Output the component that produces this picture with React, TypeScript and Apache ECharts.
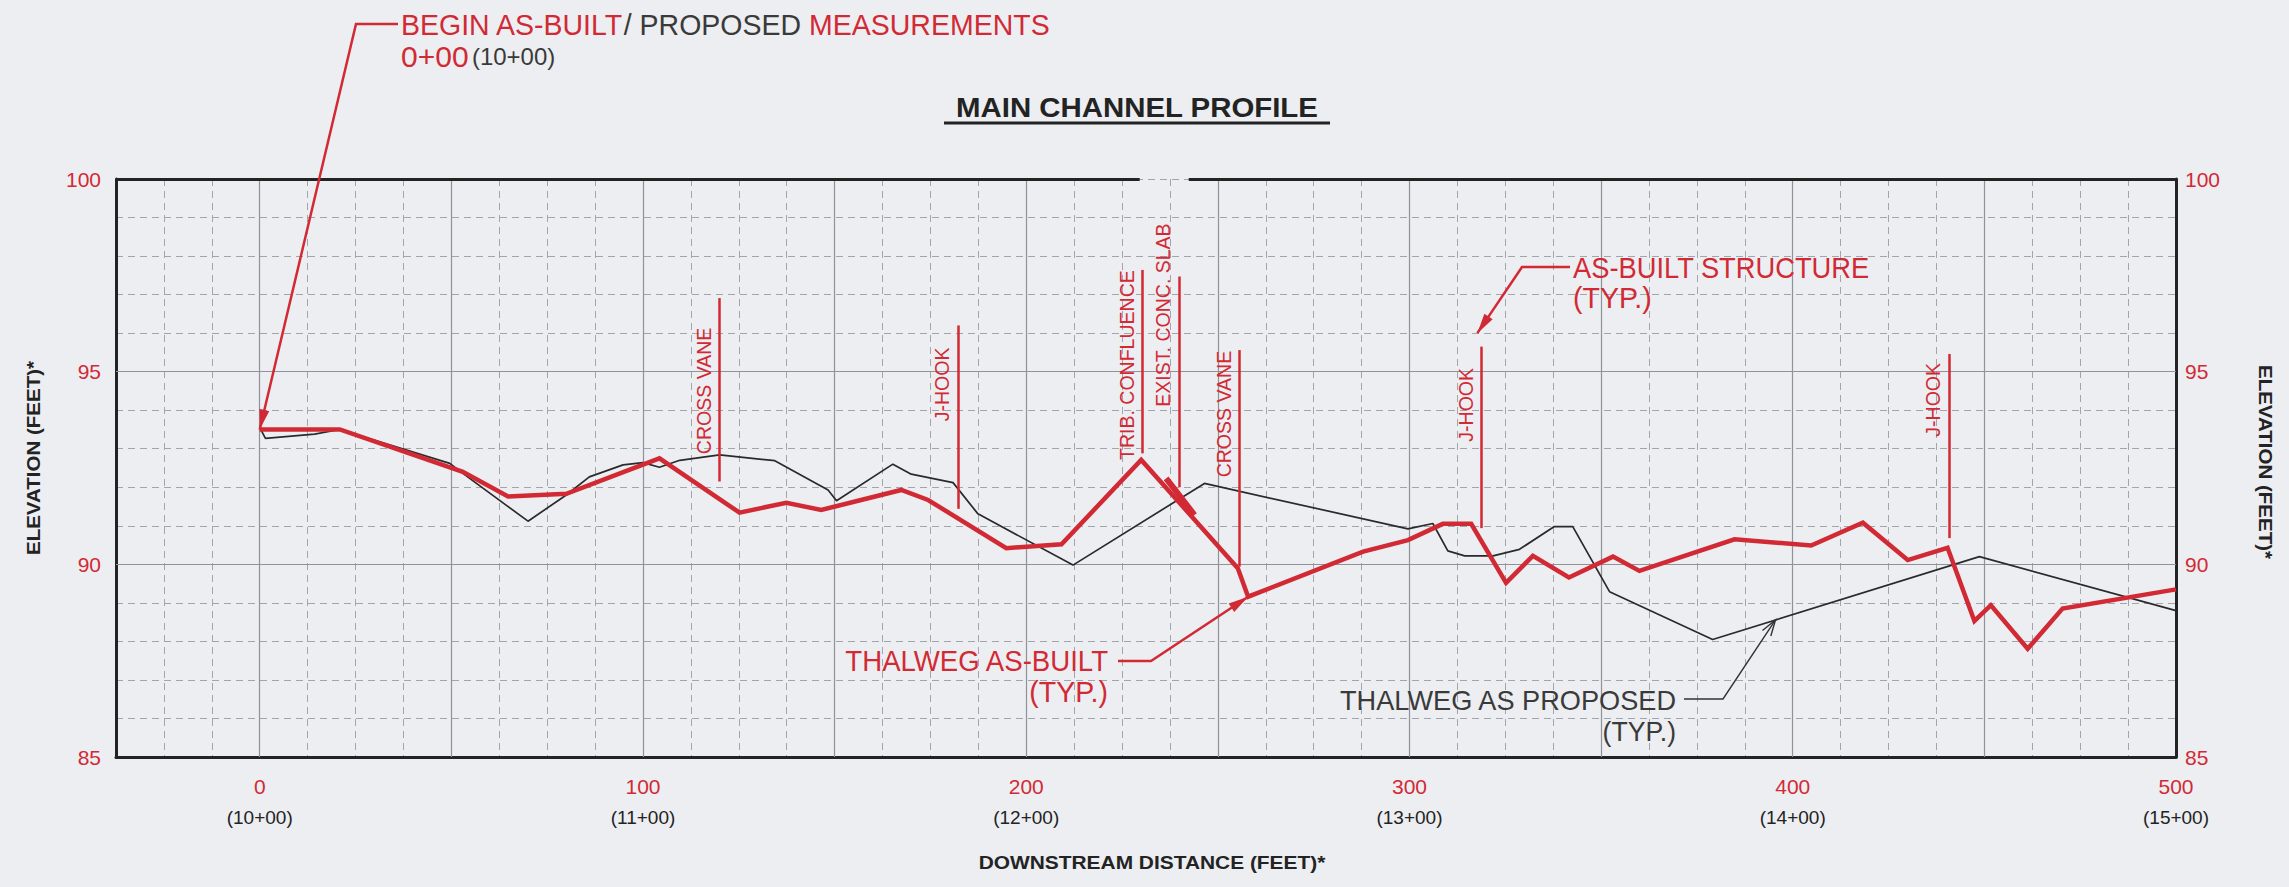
import React, { useEffect, useRef } from "react";
import * as echarts from "echarts";

// ---- data (feet downstream, elevation in feet) ----
const asBuiltX = [0, 20.9, 53, 64.8, 80, 104.3, 125.2, 137.4, 146.5, 167.4, 174.4, 194.8, 209.2, 230, 255.2, 257.9, 287.9, 299.6, 308.7, 316.1, 325.2, 332.2, 341.6, 353.1, 360, 384.8, 404.8, 418.3, 430, 440.4, 447.4, 451.7, 461.3, 470.4, 500];
const asBuiltY = [93.5, 93.5, 92.4, 91.76, 91.83, 92.75, 91.34, 91.6, 91.41, 91.93, 91.67, 90.42, 90.52, 92.71, 89.9, 89.16, 90.33, 90.63, 91.05, 91.05, 89.52, 90.22, 89.66, 90.2, 89.83, 90.65, 90.49, 91.08, 90.11, 90.43, 88.53, 88.94, 87.81, 88.85, 89.35];

const proposedX = [0, 1.5, 14.3, 20.9, 49.6, 53, 70, 80, 86, 94.8, 100, 104.3, 109.6, 120, 134.4, 148.3, 150.5, 165.2, 170, 180.9, 187.4, 212.2, 246.5, 299.6, 306.1, 310, 314.4, 321.8, 328.7, 337.8, 342.6, 352.2, 379.1, 448.7, 500];
const proposedY = [93.55, 93.27, 93.38, 93.5, 92.62, 92.36, 91.12, 91.8, 92.27, 92.58, 92.64, 92.52, 92.7, 92.84, 92.69, 91.93, 91.65, 92.6, 92.34, 92.12, 91.31, 89.98, 92.1, 90.92, 91.06, 90.35, 90.22, 90.22, 90.39, 90.98, 90.98, 89.29, 88.05, 90.2, 88.8];

const structureNames = ["CROSS VANE", "J-HOOK", "TRIB. CONFLUENCE", "EXIST. CONC. SLAB", "CROSS VANE", "J-HOOK", "J-HOOK"];
const structureX = [120.0, 182.2, 230.3, 239.8, 255.6, 318.8, 440.8];
const structureTop = [96.91, 96.2, 97.64, 97.47, 95.56, 95.65, 95.46];
const structureBottom = [92.15, 91.44, 92.88, 92.0, 89.94, 90.94, 90.68];
const structureLabelY = [94.5, 94.67, 95.17, 96.47, 93.9, 94.14, 94.27];

const slabStart = [236.5, 92.23];
const slabEnd = [243.9, 91.28];

const xTickValues = [0, 100, 200, 300, 400, 500];
const stationLabels = ["(10+00)", "(11+00)", "(12+00)", "(13+00)", "(14+00)", "(15+00)"];
const yTickValues = [85, 90, 95, 100];
const solidGridX = [0, 50, 100, 150, 200, 250, 300, 350, 400, 450];
const solidGridY = [90, 95];

// annotation anchors (data space)
const beginTip = [0, 93.5];
const structureTip = [317.7, 96.0];
const asBuiltTip = [257.9, 89.16];
const proposedTipX = 395.5;

const RED = "#d22a35";
const INK = "#232323";
const GRIDC = "#8f9298";
const DASHC = "#a2a5ab";
const FONT = "'Liberation Sans', Arial, sans-serif";

function interp(xs: number[], ys: number[], x: number) {
  for (let i = 1; i < xs.length; i++) {
    if (x <= xs[i]) {
      const t = (x - xs[i - 1]) / (xs[i] - xs[i - 1]);
      return ys[i - 1] + t * (ys[i] - ys[i - 1]);
    }
  }
  return ys[ys.length - 1];
}

function head(tip: number[], from: number[], len: number, hw: number) {
  const dx = tip[0] - from[0];
  const dy = tip[1] - from[1];
  const L = Math.hypot(dx, dy);
  const ux = dx / L;
  const uy = dy / L;
  const bx = tip[0] - ux * len;
  const by = tip[1] - uy * len;
  return [[bx - uy * hw, by + ux * hw], tip, [bx + uy * hw, by - ux * hw]];
}

export default function App() {
  const ref = useRef<HTMLDivElement>(null);
  useEffect(() => {
    document.body.style.margin = "0";
    const chart = echarts.init(ref.current!, null, { renderer: "svg" });
    const yFmt = (v: number) => (yTickValues.indexOf(v) >= 0 ? String(v) : "");
    const option: any = {
      animation: false,
      backgroundColor: "#eceef1",
      grid: { left: 116, right: 113, top: 179, bottom: 130, outerBoundsMode: "none" },
      xAxis: {
        type: "value",
        min: -37.5,
        max: 500,
        interval: 12.5,
        position: "bottom",
        axisLine: { show: true, onZero: false, lineStyle: { color: INK, width: 3 } },
        axisTick: { show: false },
        splitLine: { show: true, lineStyle: { color: DASHC, width: 1, type: [7, 5] } },
        axisLabel: {
          margin: 14,
          hideOverlap: false,
          formatter: (v: number) => {
            const k = Math.round(v);
            if (Math.abs(v - k) > 1e-6) return "";
            const i = xTickValues.indexOf(k);
            if (i < 0) return "";
            return `{a|${k}}\n{b|${stationLabels[i]}}`;
          },
          rich: {
            a: { color: RED, fontSize: 21, lineHeight: 30, fontFamily: FONT },
            b: { color: INK, fontSize: 19, lineHeight: 32, fontFamily: FONT },
          },
        },
      },
      yAxis: [
        {
          type: "value",
          min: 85,
          max: 100,
          interval: 1,
          position: "left",
          axisLine: { show: true, onZero: false, lineStyle: { color: INK, width: 3 } },
          axisTick: { show: false },
          splitLine: { show: true, lineStyle: { color: DASHC, width: 1, type: [7, 5] } },
          axisLabel: { margin: 15, color: RED, fontSize: 21, fontFamily: FONT, formatter: yFmt },
        },
        {
          type: "value",
          min: 85,
          max: 100,
          interval: 1,
          position: "right",
          axisLine: { show: true, onZero: false, lineStyle: { color: INK, width: 3 } },
          axisTick: { show: false },
          splitLine: { show: false },
          axisLabel: { margin: 9, color: RED, fontSize: 21, fontFamily: FONT, formatter: yFmt },
        },
      ],
      series: [
        {
          name: "gridSolid",
          type: "line",
          data: [[-37.5, 85]],
          symbol: "none",
          lineStyle: { width: 0 },
          clip: false,
          silent: true,
          markLine: {
            silent: true,
            symbol: "none",
            z: 1,
            label: { show: false },
            lineStyle: { color: GRIDC, width: 1.2, type: "solid" },
            data: [
              ...solidGridX.map((x) => ({ xAxis: x })),
              ...solidGridY.map((y) => ({ yAxis: y })),
            ],
          },
        },
        {
          name: "frameTop",
          type: "line",
          data: [[-37.5, 85]],
          symbol: "none",
          lineStyle: { width: 0 },
          clip: false,
          silent: true,
          markLine: {
            silent: true,
            symbol: "none",
            z: 6,
            label: { show: false },
            lineStyle: { color: INK, width: 3, type: "solid" },
            data: [
              [{ coord: [-37.5, 100] }, { coord: [229.6, 100] }],
              [{ coord: [242.4, 100] }, { coord: [500, 100] }],
            ],
          },
        },
        {
          name: "Thalweg as proposed",
          type: "line",
          data: proposedX.map((x, i) => [x, proposedY[i]]),
          symbol: "none",
          z: 3,
          lineStyle: { color: "#2a2a2a", width: 1.7 },
        },
        {
          name: "Thalweg as-built",
          type: "line",
          data: asBuiltX.map((x, i) => [x, asBuiltY[i]]),
          symbol: "none",
          z: 4,
          lineStyle: { color: RED, width: 4.5, join: "miter" },
        },
        {
          name: "structures",
          type: "line",
          data: [[-37.5, 85]],
          symbol: "none",
          lineStyle: { width: 0 },
          clip: false,
          silent: true,
          markLine: {
            silent: true,
            symbol: "none",
            z: 5,
            label: { show: false },
            lineStyle: { color: RED, width: 2.5, type: "solid" },
            data: [
              ...structureX.map((x, i) => [
                { coord: [x, structureTop[i]] },
                { coord: [x, structureBottom[i]] },
              ]),
              [
                { coord: slabStart, lineStyle: { width: 6, color: RED } },
                { coord: slabEnd },
              ],
            ],
          },
        },
      ],
    };
    chart.setOption(option);

    const P = (x: number, y: number) =>
      chart.convertToPixel({ xAxisIndex: 0, yAxisIndex: 0 }, [x, y]) as number[];

    const els: any[] = [];
    const txt = (x: number, y: number, text: string, opts: any, extra: any = {}) =>
      els.push({
        type: "text",
        x,
        y,
        z: 20,
        ...extra,
        style: { text, fontFamily: FONT, ...opts },
      });

    // Title
    txt(1137, 107, "MAIN CHANNEL PROFILE", { fill: INK, fontSize: 28, fontWeight: "bold", align: "center", verticalAlign: "middle" }, { scaleX: 1.05 });
    els.push({ type: "line", z: 20, shape: { x1: 944, y1: 123, x2: 1330, y2: 123 }, style: { stroke: INK, lineWidth: 3 } });

    // Axis titles
    txt(33, 458, "ELEVATION (FEET)*", { fill: INK, fontSize: 19, fontWeight: "bold", align: "center", verticalAlign: "middle" }, { rotation: Math.PI / 2, scaleX: 1.08 });
    txt(2266, 462, "ELEVATION (FEET)*", { fill: INK, fontSize: 19, fontWeight: "bold", align: "center", verticalAlign: "middle" }, { rotation: -Math.PI / 2, scaleX: 1.08 });
    txt(1152, 862, "DOWNSTREAM DISTANCE (FEET)*", { fill: INK, fontSize: 19, fontWeight: "bold", align: "center", verticalAlign: "middle" }, { scaleX: 1.1 });

    // Structure labels
    structureNames.forEach((name, i) => {
      const p = P(structureX[i], structureLabelY[i]);
      txt(p[0] - 16, p[1], name, { fill: RED, fontSize: 21, align: "center", verticalAlign: "middle" }, { rotation: Math.PI / 2, scaleX: 0.93 });
    });

    const leader = (pts: number[][], color: string, w: number) =>
      els.push({ type: "polyline", z: 19, shape: { points: pts }, style: { stroke: color, lineWidth: w, fill: null } });
    const solidHead = (tip: number[], from: number[], color: string) =>
      els.push({ type: "polygon", z: 19, shape: { points: head(tip, from, 20, 5) }, style: { fill: color } });

    // BEGIN AS-BUILT / PROPOSED MEASUREMENTS
    txt(401, 25, "{r|BEGIN AS-BUILT}{k|/ PROPOSED }{r|MEASUREMENTS}", {
      align: "left",
      verticalAlign: "middle",
      rich: {
        r: { fill: RED, fontSize: 30, fontFamily: FONT },
        k: { fill: "#3a3a3a", fontSize: 30, fontFamily: FONT },
      },
    }, { scaleX: 0.95 });
    txt(401, 56, "{r|0+00} {k|(10+00)}", {
      align: "left",
      verticalAlign: "middle",
      rich: {
        r: { fill: RED, fontSize: 30, fontFamily: FONT },
        k: { fill: "#3a3a3a", fontSize: 24, fontFamily: FONT },
      },
    }, { scaleX: 1.0 });
    const bt = P(beginTip[0], beginTip[1]);
    leader([[398, 24], [356, 24], bt], RED, 2.5);
    solidHead(bt, [356, 24], RED);

    // AS-BUILT STRUCTURE (TYP.)
    txt(1573, 268, "AS-BUILT STRUCTURE", { fill: RED, fontSize: 30, align: "left", verticalAlign: "middle" }, { scaleX: 0.91 });
    txt(1573, 298, "(TYP.)", { fill: RED, fontSize: 30, align: "left", verticalAlign: "middle" }, { scaleX: 0.95 });
    const st = P(structureTip[0], structureTip[1]);
    leader([[1570, 267], [1522, 267], st], RED, 2.5);
    solidHead(st, [1522, 267], RED);

    // THALWEG AS-BUILT (TYP.)
    txt(1108, 661, "THALWEG AS-BUILT", { fill: RED, fontSize: 30, align: "right", verticalAlign: "middle" }, { scaleX: 0.92 });
    txt(1108, 692, "(TYP.)", { fill: RED, fontSize: 30, align: "right", verticalAlign: "middle" }, { scaleX: 0.95 });
    const at = P(asBuiltTip[0], asBuiltTip[1]);
    leader([[1118, 661], [1151, 661], at], RED, 2.5);
    solidHead(at, [1151, 661], RED);

    // THALWEG AS PROPOSED (TYP.)
    txt(1676, 700, "THALWEG AS PROPOSED", { fill: "#3a3a3a", fontSize: 28, align: "right", verticalAlign: "middle" }, { scaleX: 0.97 });
    txt(1676, 731, "(TYP.)", { fill: "#3a3a3a", fontSize: 28, align: "right", verticalAlign: "middle" }, { scaleX: 0.95 });
    const pt = P(proposedTipX, interp(proposedX, proposedY, proposedTipX));
    leader([[1684, 699], [1723, 699], pt], "#333", 1.4);
    els.push({ type: "polyline", z: 19, shape: { points: head(pt, [1723, 699], 16, 5) }, style: { stroke: "#333", lineWidth: 1.4, fill: null } });

    chart.setOption({ graphic: els });
    return () => chart.dispose();
  }, []);
  return <div ref={ref} style={{ width: 2289, height: 887, background: "#eceef1" }} />;
}
